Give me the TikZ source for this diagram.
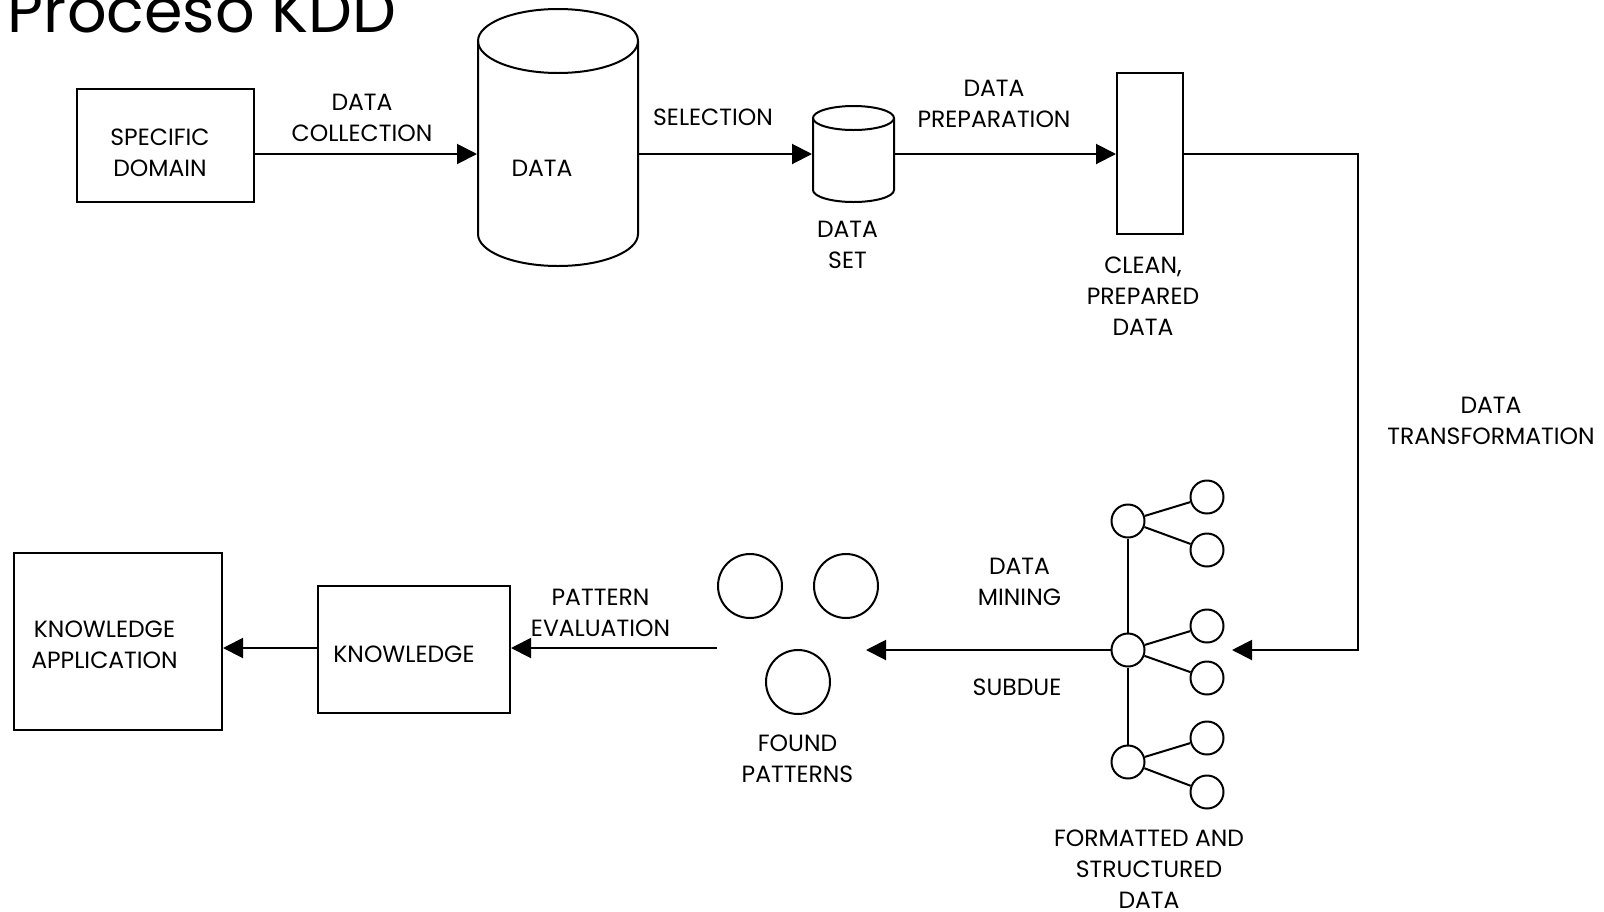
\documentclass[tikz,border=0pt]{standalone}
\usepackage{fontspec}
\setmainfont{Poppins}
\usetikzlibrary{arrows.meta}
\begin{document}
\begin{tikzpicture}[x=1pt,y=-1pt,
  line width=2pt,
  arr/.style={-{Triangle[length=20pt,width=20pt]}},
  lbl/.style={inner sep=0pt, align=center, font=\fontsize{23.5}{31}\selectfont},
  boxnode/.style={draw, rectangle, inner sep=0pt},
  area/.style={rectangle, inner sep=0pt},
  dot/.style={draw, circle, inner sep=0pt, minimum size=33pt},
  pattern/.style={draw, circle, inner sep=0pt, minimum size=64pt}]
\useasboundingbox (0,0) rectangle (1604,911);

% title
\node[anchor=base west, inner sep=0pt, font=\fontsize{62}{62}\selectfont] (title) at (7,32) {Proceso KDD};

% levels of the two horizontal flows
\coordinate (r1) at (0,154);
\coordinate (r2) at (0,648);

% upper row: domain, data store, data set, prepared data
\node[boxnode, minimum width=177pt, minimum height=113pt] (sd) at (165.5,145.5) {};
\node[lbl] (sdtext) at (160,152.5) {SPECIFIC\\DOMAIN};

\node[area, minimum width=160pt, minimum height=257pt] (data) at (558,137.5) {};
\draw (478,41) -- (478,234) arc[start angle=180, end angle=0, x radius=80, y radius=32] -- (638,41);
\draw (558,41) ellipse[x radius=80, y radius=32];
\node[lbl] (datatext) at (542,168) {DATA};

\node[area, minimum width=81pt, minimum height=96pt] (dset) at (853.5,154) {};
\draw (813,118) -- (813,190) arc[start angle=180, end angle=0, x radius=40.5, y radius=12] -- (894,118);
\draw (853.5,118) ellipse[x radius=40.5, y radius=12];
\node[lbl] (dsettext) at (847.5,244.5) {DATA\\SET};

\node[boxnode, minimum width=66pt, minimum height=161pt] (clean) at (1150,153.5) {};
\node[lbl] (cleantext) at (1143,296) {CLEAN,\\PREPARED\\DATA};

% formatted and structured data (tree)
\node[dot] (h1) at (1128,521) {};
\node[dot] (h2) at (1128,650) {};
\node[dot] (h3) at (1128,762) {};
\node[dot] (c11) at (1207,497) {};
\node[dot] (c12) at (1207,550) {};
\node[dot] (c21) at (1207,626) {};
\node[dot] (c22) at (1207,678) {};
\node[dot] (c31) at (1207,738) {};
\node[dot] (c32) at (1207,792) {};
\draw (h1) -- (h2) -- (h3);
\draw (h1) -- (c11); \draw (h1) -- (c12);
\draw (h2) -- (c21); \draw (h2) -- (c22);
\draw (h3) -- (c31); \draw (h3) -- (c32);
\node[lbl] (treetext) at (1149,869) {FORMATTED AND\\STRUCTURED\\DATA};

% found patterns
\node[pattern] (p1) at (750,586) {};
\node[pattern] (p2) at (846,586) {};
\node[pattern] (p3) at (798,682) {};
\node[lbl] (ptext) at (797.5,759) {FOUND\\PATTERNS};

% lower row: knowledge and its application
\node[boxnode, minimum width=192pt, minimum height=127pt] (know) at (414,649.5) {};
\node[lbl] (knowtext) at (404,654) {KNOWLEDGE};
\node[boxnode, minimum width=208pt, minimum height=177pt] (ka) at (118,641.5) {};
\node[lbl] (katext) at (104.5,644.5) {KNOWLEDGE\\APPLICATION};

% connectors
\coordinate (tcorner) at (1358,650);
\coordinate (tin) at (1232,650);
\coordinate (fpin) at (866,650);
\draw[arr] (sd.east |- r1) -- (data.west |- r1);
\draw[arr] (data.east |- r1) -- (dset.west |- r1);
\draw[arr] (dset.east |- r1) -- (clean.west |- r1);
\draw[arr] (clean.east |- r1) -| (tcorner) -- (tin);
\draw[arr] (h2.west) -- (fpin);
\draw[arr] (p1.west |- r2) -- (know.east |- r2);
\draw[arr] (know.west |- r2) -- (ka.east |- r2);

% step labels
\node[lbl] at (362,117.5) {DATA\\COLLECTION};
\node[lbl] at (713,117) {SELECTION};
\node[lbl] at (994,104) {DATA\\PREPARATION};
\node[lbl] at (1491,421) {DATA\\TRANSFORMATION};
\node[lbl] at (1019.5,581.5) {DATA\\MINING};
\node[lbl] at (1017,687) {SUBDUE};
\node[lbl] at (600.5,613) {PATTERN\\EVALUATION};
\end{tikzpicture}
\end{document}
